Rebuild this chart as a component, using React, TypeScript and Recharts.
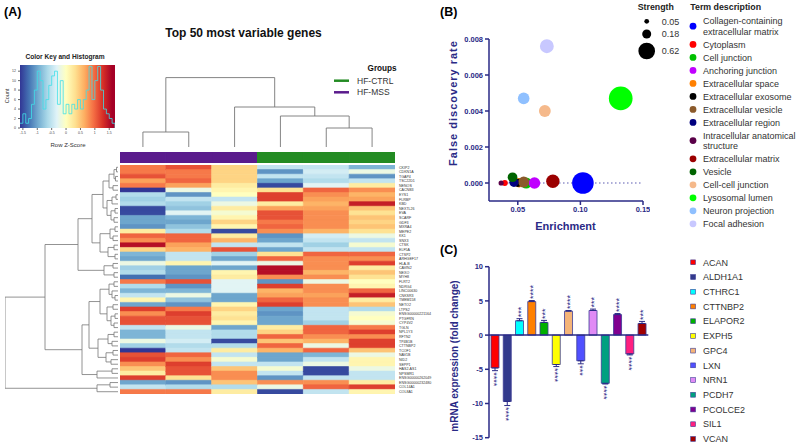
import React from "react";
import {
  Bar,
  BarChart,
  Cell,
  ErrorBar,
  LabelList,
  Line,
  LineChart,
  ReferenceArea,
  ReferenceLine,
  Scatter,
  ScatterChart,
  XAxis,
  YAxis,
  ZAxis,
} from "recharts";

const FONT = '"Liberation Sans", Arial, sans-serif';
const NAVY = "#2a2a86";

// ---------- (A) heatmap: top 50 genes, row z-scores, 6 samples ----------
const heatGenes = [
  "CKIP2", "CDKN1A", "TGAP4", "TSC22D1", "NENOS", "CACNB3", "EYS1", "FLRBP", "KBD", "NEXTL26",
  "EVA", "SCARF", "GDF3", "MXRA4", "MEPE2", "KK1", "SNX3", "CTSK", "ELF5A", "CTSP2",
  "ARHGEF17", "HLA-B", "CAVIN2", "NEXO", "MYH8", "FLRT2", "NDRG4", "LINC00630", "CNKSR3", "TMEM158",
  "NETO2", "LTPS2", "ENSG00000221164", "PTGFRN", "CYP4V2", "TGLN", "NPL1Y3", "RFTN2", "TP4B1B", "CTTNBP2",
  "TCOF1", "NAV1B", "NID2", "SEPP1", "HAS2-AS1", "NPSMR1", "ENSG00000262049", "ENSG00000232480", "COL14A1", "COL8A1",
];
const sampleGroups = ["HF-MSS", "HF-MSS", "HF-MSS", "HF-CTRL", "HF-CTRL", "HF-CTRL"];
const zS1 = [0.9,0.9,1.1,0.7,0.9,-1.6,-0.6,-0.7,-0.6,-1.5, -1.5,-1.0,-1.0,-1.1,0.2,1.0,0.8,1.5,0.4,-0.9, -1.0,-0.2,-0.7,-0.6,-1.3,0.9,-0.6,-0.9,-0.5,0.1, -1.0,1.2,0.8,1.1,1.1,-0.5,-0.9,-0.9,-0.2,-0.7, -1.6,1.1,1.2,0.8,0.5,0.2,1.2,-1.0,-0.5,0.9];
const zS2 = [1.1,0.9,0.9,1.0,0.7,-0.2,-1.1,-0.5,-0.7,-0.8, -0.3,-0.9,-1.0,-0.8,-0.6,1.0,1.0,0.7,0.6,-0.5, -0.5,0.1,-1.0,-1.0,-1.1,1.1,-1.1,-0.9,-0.2,-0.8, -1.1,0.9,1.2,1.1,1.1,-0.2,-0.5,-0.5,-0.4,-0.6, -0.5,1.0,0.8,1.2,1.1,1.1,0.3,-1.1,-0.6,0.9];
const zS3 = [0.4,0.4,0.4,0.4,0.2,0.1,0.0,-0.5,-0.2,0.2, -0.1,0.1,0.4,0.1,-1.5,0.2,0.6,-0.5,1.1,-0.7, -1.0,-0.3,-1.0,0.1,0.2,-0.3,-0.3,-0.3,-1.0,-1.0, 0.1,0.4,0.2,0.3,0.1,-1.0,-0.6,-0.6,-1.5,-0.6, 0.2,-0.5,-0.1,-0.5,0.5,0.8,0.8,0.5,-0.6,0.2];
const zS4 = [-0.5,-1.1,-0.5,-1.0,-1.5,0.3,1.2,1.2,0.2,0.7, 1.1,1.1,0.9,1.0,0.8,-1.1,-1.0,-0.5,-1.0,0.3, 1.0,-0.2,1.5,1.5,0.8,-1.1,1.2,0.6,0.7,1.0, 1.2,-1.0,-1.1,-1.0,-1.0,0.2,0.4,1.0,0.5,1.0, 0.6,-1.0,-1.0,-0.5,-0.1,-0.5,-1.1,0.8,-0.2,-1.5];
const zS5 = [-0.5,-0.4,-0.5,-0.6,-0.3,1.0,0.8,0.7,0.6,0.7, 0.8,0.8,0.8,0.8,0.6,-0.4,-0.5,-0.7,-0.5,1.0, 0.8,0.8,0.8,0.6,0.8,-0.2,0.8,0.8,0.7,0.8, 0.8,-0.5,-0.5,-0.5,-0.7,1.0,1.0,0.8,0.6,-0.2, 1.0,-0.9,-0.5,-0.2,-1.5,-1.5,-0.5,0.8,1.0,-0.5];
const zS6 = [-0.9,-0.2,-1.1,-0.5,0.2,0.8,0.6,0.7,1.4,0.5, 0.3,0.5,0.4,0.5,0.3,-0.2,-0.5,-0.1,-0.5,1.0, 0.8,1.2,0.2,0.5,0.3,0.0,0.1,1.0,1.4,0.2, 0.5,-0.6,-0.1,0.0,-0.1,0.9,1.2,0.8,1.2,1.2, 0.5,-0.2,0.1,0.1,-0.2,-0.5,-0.5,0.2,1.2,0.1];
const heatCols = [zS1, zS2, zS3, zS4, zS5, zS6];

// dendrograms: [merge height, left, right], leaves are row / column indices
type Tree = number | [number, Tree, Tree];
const colTree: Tree = [69.4, [15, 0, 1], [40, 2, [31, 3, [19, 4, 5]]]];
const rowTree: Tree = [113,
  [73,
    [40,
      [26,
        [15,
          [9, [4, [1.5, 0, 1], [2.5, 2, 3]], [5, 4, 5]],
          [11, [6, [2, 6, 7], 8], [7, [3, 9, 10], [4, 11, 12]]]],
        [18, [8, [3, 13, 14], [5, 15, 16]], [10, [4, 17, 18], [3, 19, 20]]]],
      [14, [5, 21, 22], [4, 23, 24]]],
    [36,
      [29,
        [18, [9, [4, 25, 26], [6, 27, [3, 28, 29]]], [11, [5, 30, 31], [7, [3, 32, 33], [4, 34, 35]]]],
        [20, [10, [4, 36, 37], [6, 38, 39]], [12, [5, 40, 41], [7, 42, 43]]]],
      [21, [6, 44, 45], 46]]],
  [21, [8, 47, 48], 49]];

// colour key histogram
const keyBinStart = [-1.6,-1.5,-1.4,-1.3,-1.2,-1.1,-1.0,-0.9,-0.8,-0.7,-0.6,-0.5,-0.4,-0.3,-0.2,-0.1,0,0.1,0.2,0.3,0.4,0.5,0.6,0.7,0.8,0.9,1.0,1.1,1.2,1.3,1.4,1.5,1.6];
const keyCounts = [1,3,1,2,5,8,12,10,4,6,9,11,12,5,10,3,5,3,5,4,6,4,6,8,13,6,10,13,8,4,3,2,1];

// ---------- (B) GO cellular component enrichment ----------
const termNames = [
  "Collagen-containing extracellular matrix", "Cytoplasm", "Cell junction", "Anchoring junction",
  "Extracellular space", "Extracellular exosome", "Extracellular vesicle", "Extracellular region",
  "Intracellular anatomical structure", "Extracellular matrix", "Vesicle", "Cell-cell junction",
  "Lysosomal lumen", "Neuron projection", "Focal adhesion",
];
const termColors = ["#0000ff", "#ff0000", "#00c000", "#c000ff", "#ff8000", "#000000", "#8b5a2b", "#00007f", "#5a0048", "#9b0000", "#006400", "#f5b98b", "#00ff00", "#8fc0ff", "#c8c8ff"];
const enrichment = [0.102, 0.0396, 0.0567, 0.0633, 0.051, 0.05, 0.0547, 0.0469, 0.0367, 0.078, 0.0458, 0.0716, 0.1322, 0.0547, 0.0732];
const fdr = [0.0, 0.0, 0.0, 0.0, 0.00002, 0.00001, 0.00005, 0.00004, 0.0, 0.0001, 0.00032, 0.004, 0.0047, 0.0047, 0.0076];
const strength = [1.04, 0.08, 0.27, 0.3, 0.2, 0.15, 0.27, 0.19, 0.06, 0.4, 0.21, 0.31, 1.25, 0.3, 0.43];
const strengthKey = [0.05, 0.18, 0.62];

// ---------- (C) qPCR ----------
const qpcrGenes = ["ACAN", "ALDH1A1", "CTHRC1", "CTTNBP2", "ELAPOR2", "EXPH5", "GPC4", "LXN", "NRN1", "PCDH7", "PCOLCE2", "SIL1", "VCAN"];
const foldChange = [-4.8, -9.7, 2.1, 4.9, 1.85, -4.3, 3.5, -3.75, 3.6, -7.05, 3.0, -2.75, 1.7];
const foldErr = [0.4, 0.6, 0.3, 0.15, 0.3, 0.3, 0.1, 0.45, 0.2, 0.1, 0.15, 0.15, 0.3];
const signif = ["****", "****", "***", "****", "***", "****", "****", "***", "***", "****", "****", "****", "***"];
const qpcrColors = ["#ff0000", "#333a8c", "#00ffff", "#ff8000", "#00b000", "#ffff00", "#f5b478", "#5050ff", "#e08af5", "#00a080", "#800090", "#ff1f7f", "#a00000"];

// ---------- helpers ----------
const zStops: [number, string][] = [
  [-1.6, "#313695"], [-1.28, "#4575b4"], [-0.96, "#74add1"], [-0.64, "#abd9e9"], [-0.32, "#e0f3f8"],
  [0, "#ffffbf"], [0.32, "#fee090"], [0.64, "#fdae61"], [0.96, "#f46d43"], [1.28, "#d73027"], [1.6, "#a50026"],
];
const hex = (c: string) => [1, 3, 5].map((i) => parseInt(c.slice(i, i + 2), 16));
function zColor(v: number) {
  const z = Math.max(-1.6, Math.min(1.6, v));
  let k = 0;
  while (k < zStops.length - 2 && z > zStops[k + 1][0]) k++;
  const [a, ca] = zStops[k];
  const [b, cb] = zStops[k + 1];
  const t = (z - a) / (b - a);
  const A = hex(ca), B = hex(cb);
  return `rgb(${A.map((x, i) => Math.round(x + (B[i] - x) * t)).join(",")})`;
}

function dendroLinks(t: Tree, out: { h: number; p: number }[][]): { h: number; p: number } {
  if (typeof t === "number") return { h: 0, p: t + 0.5 };
  const [h, a, b] = t;
  const A = dendroLinks(a, out);
  const B = dendroLinks(b, out);
  out.push([A, { h, p: A.p }, { h, p: B.p }, B]);
  return { h, p: (A.p + B.p) / 2 };
}
const rowLinks: { h: number; p: number }[][] = [];
dendroLinks(rowTree, rowLinks);
const colLinks: { h: number; p: number }[][] = [];
dendroLinks(colTree, colLinks);

const groupColor: Record<string, string> = { "HF-CTRL": "#238b23", "HF-MSS": "#5a1b8c" };

const heatRows = heatGenes.map((gene) => ({ gene, c0: 1, c1: 1, c2: 1, c3: 1, c4: 1, c5: 1 }));
const groupRow = [{ name: "group", c0: 1, c1: 1, c2: 1, c3: 1, c4: 1, c5: 1 }];
const keyData = [...keyBinStart.map((z, i) => ({ z, count: keyCounts[i] })), { z: 1.7, count: 0 }];
const termData = termNames.map((name, i) => ({ name, x: enrichment[i], y: fdr[i], z: strength[i] }));
const qpcrRows = qpcrGenes.map((gene, i) => ({
  gene,
  fc: foldChange[i],
  err: foldChange[i] < 0 ? [foldErr[i], 0] : [0, foldErr[i]],
  sig: signif[i],
}));

const EmptyShape = () => <g />;
const Z_RANGE = 441;
const Z_MAX = 1.25;
const bubbleR = (s: number) => Math.sqrt((s / Z_MAX) * Z_RANGE / Math.PI);
const C_PX = 171 / 25;

const StarLabel = (props: any) => {
  const { x, y, width, height, index } = props;
  const v = foldChange[index];
  const cx = x + width / 2 + (v >= 0 ? 1.2 : -1.2);
  const end = v >= 0 ? Math.min(y, y + height) : Math.max(y, y + height);
  const gap = foldErr[index] * C_PX + 1.5;
  const start = v >= 0 ? end - gap : end + gap;
  const rot = v >= 0 ? -90 : 90;
  return (
    <text x={cx} y={start} transform={`rotate(${rot} ${cx} ${start})`} textAnchor="start"
      dominantBaseline="central" fontSize={9} fill={NAVY} fontFamily={FONT}>
      {signif[index]}
    </text>
  );
};

const axisTick = { fill: NAVY, fontSize: 7.5, fontWeight: "bold", fontFamily: FONT };
const abs = (left: number, top: number): React.CSSProperties => ({ position: "absolute", left, top });

export default function App() {
  let ty = 21;
  const termRows = termNames.map((n, i) => {
    const lines = i === 0 ? ["Collagen-containing", "extracellular matrix"] : i === 8 ? ["Intracellular anatomical", "structure"] : [n];
    const y0 = ty;
    const cy = y0 + ((lines.length - 1) * 10.4) / 2;
    ty += (lines.length - 1) * 10.4 + 13;
    return { lines, y0, cy, color: termColors[i] };
  });

  return (
    <div style={{ position: "absolute", left: 0, top: 0, width: 798, height: 445, background: "#fff", fontFamily: FONT, overflow: "hidden" }}>
      {/* colour key */}
      <div style={abs(0, 55)}>
        <LineChart width={120} height={81} data={keyData} margin={{ top: 10, right: 5, bottom: 0, left: 10 }}>
          <defs>
            <linearGradient id="keyGrad" x1="0" y1="0" x2="1" y2="0">
              {zStops.map(([v, c], i) => (
                <stop key={i} offset={(v + 1.6) / 3.3} stopColor={c} />
              ))}
              <stop offset={1} stopColor="#a50026" />
            </linearGradient>
          </defs>
          <XAxis type="number" dataKey="z" domain={[-1.6, 1.7]} allowDataOverflow ticks={[-1.5, -1, -0.5, 0, 0.5, 1, 1.5]}
            height={8} tickSize={2} tick={{ fontSize: 3.5, fill: "#444" }} stroke="#666" axisLine={false} />
          <YAxis type="number" domain={[0, 13.3]} allowDataOverflow ticks={[0, 2, 4, 6, 8, 10, 12]} width={10}
            tickSize={2} tick={{ fontSize: 3.5, fill: "#444" }} stroke="#666" axisLine={false} />
          <ReferenceArea x1={-1.6} x2={1.7} y1={0} y2={13.3} fill="url(#keyGrad)" fillOpacity={1} stroke="none" />
          <Line type="stepAfter" dataKey="count" stroke="#3fe0e8" strokeWidth={0.8} dot={false} isAnimationActive={false} />
        </LineChart>
      </div>

      {/* column dendrogram */}
      <div style={abs(120, 75)}>
        <ScatterChart width={275} height={72} margin={{ top: 0, right: 0, bottom: 0, left: 0 }}>
          <XAxis type="number" dataKey="p" domain={[0, 6]} hide allowDataOverflow />
          <YAxis type="number" dataKey="h" domain={[0, 72]} hide allowDataOverflow />
          {colLinks.map((pts, i) => (
            <Scatter key={i} data={pts} line={{ stroke: "#777", strokeWidth: 0.9 }} lineType="joint" shape={EmptyShape} isAnimationActive={false} />
          ))}
        </ScatterChart>
      </div>

      {/* group colour bar */}
      <div style={abs(120, 152)}>
        <BarChart layout="vertical" width={275} height={11} data={groupRow} margin={{ top: 0, right: 0, bottom: 0, left: 0 }} barCategoryGap={0}>
          <XAxis type="number" domain={[0, 6]} hide allowDataOverflow />
          <YAxis type="category" dataKey="name" hide />
          {sampleGroups.map((g, j) => (
            <Bar key={j} dataKey={`c${j}`} stackId="g" fill={groupColor[g]} stroke={groupColor[g]} strokeWidth={1} isAnimationActive={false} />
          ))}
        </BarChart>
      </div>

      {/* row dendrogram */}
      <div style={abs(0, 165)}>
        <ScatterChart width={120} height={229} margin={{ top: 0, right: 2, bottom: 0, left: 5 }}>
          <XAxis type="number" dataKey="h" domain={[0, 113]} reversed hide allowDataOverflow />
          <YAxis type="number" dataKey="p" domain={[0, 50]} reversed hide allowDataOverflow />
          {rowLinks.map((pts, i) => (
            <Scatter key={i} data={pts} line={{ stroke: "#777", strokeWidth: 0.8 }} lineType="joint" shape={EmptyShape} isAnimationActive={false} />
          ))}
        </ScatterChart>
      </div>

      {/* heatmap */}
      <div style={abs(120, 165)}>
        <BarChart layout="vertical" width={318} height={229} data={heatRows} margin={{ top: 0, right: 0, bottom: 0, left: 0 }} barCategoryGap={0} barGap={0}>
          <XAxis type="number" domain={[0, 6]} hide allowDataOverflow />
          <YAxis type="category" dataKey="gene" orientation="right" width={43} interval={0} tickLine={false} axisLine={false}
            tickSize={2} tickMargin={2} tick={{ fontSize: 3.6, fill: "#333", textAnchor: "start" }} />
          {heatCols.map((col, j) => (
            <Bar key={j} dataKey={`c${j}`} stackId="h" isAnimationActive={false}>
              {col.map((v, i) => (
                <Cell key={i} fill={zColor(v)} stroke={zColor(v)} strokeWidth={0.6} />
              ))}
            </Bar>
          ))}
        </BarChart>
      </div>

      {/* (B) bubble chart */}
      <div style={abs(440, 0)}>
        <ScatterChart width={210} height={240} margin={{ top: 39, right: 7, bottom: 9, left: 9 }}>
          <XAxis type="number" dataKey="x" domain={[0.027, 0.15]} allowDataOverflow ticks={[0.05, 0.1, 0.15]}
            tickFormatter={(v: number) => v.toFixed(2)} height={30} stroke={NAVY} strokeWidth={1.5} tickSize={4} tick={axisTick} />
          <YAxis type="number" dataKey="y" domain={[-0.001, 0.008]} allowDataOverflow ticks={[0, 0.002, 0.004, 0.006, 0.008]}
            tickFormatter={(v: number) => v.toFixed(3)} width={40} stroke={NAVY} strokeWidth={1.5} tickSize={4} tick={axisTick} />
          <ZAxis type="number" dataKey="z" domain={[0, Z_MAX]} range={[0, Z_RANGE]} />
          <ReferenceLine segment={[{ x: 0.035, y: 0 }, { x: 0.15, y: 0 }]} stroke="#5a5ab0" strokeWidth={1.2} strokeDasharray="1.5 2.5" />
          <Scatter data={termData} isAnimationActive={false}>
            {termColors.map((c, i) => (
              <Cell key={i} fill={c} />
            ))}
          </Scatter>
        </ScatterChart>
      </div>

      {/* (C) qPCR bars */}
      <div style={abs(440, 230)}>
        <BarChart width={215} height={215} data={qpcrRows} margin={{ top: 36.7, right: 6.7, bottom: 7.3, left: 9 }}>
          <XAxis dataKey="gene" hide />
          <YAxis type="number" domain={[-15, 10]} allowDataOverflow ticks={[-15, -10, -5, 0, 5, 10]} width={40}
            stroke={NAVY} strokeWidth={1.5} tickSize={4} tick={axisTick} />
          <ReferenceLine y={0} stroke={NAVY} strokeWidth={1.5} />
          <Bar dataKey="fc" barSize={8} stroke="#3c3c96" strokeWidth={0.8} isAnimationActive={false}>
            {qpcrColors.map((c, i) => (
              <Cell key={i} fill={c} />
            ))}
            <ErrorBar dataKey="err" width={3} stroke={NAVY} strokeWidth={1} direction="y" />
            <LabelList dataKey="sig" content={<StarLabel />} />
          </Bar>
        </BarChart>
      </div>

      {/* text overlay */}
      <svg width={798} height={445} style={{ position: "absolute", left: 0, top: 0, pointerEvents: "none" }} fontFamily={FONT}>
        <text x={4} y={16} fontSize={12.5} fontWeight="bold">(A)</text>
        <text x={440} y={16} fontSize={12.5} fontWeight="bold">(B)</text>
        <text x={440} y={254} fontSize={12.5} fontWeight="bold">(C)</text>
        <text x={243.5} y={36.5} fontSize={12} fontWeight="bold" textAnchor="middle" fill="#111">Top 50 most variable genes</text>

        {/* colour key labels */}
        <text x={65} y={59} fontSize={6.6} fontWeight="bold" textAnchor="middle" fill="#222">Color Key and Histogram</text>
        <text x={68} y={147} fontSize={6} textAnchor="middle" fill="#333">Row Z-Score</text>
        <text x={9} y={96} fontSize={5.5} textAnchor="middle" fill="#333" transform="rotate(-90 9 96)">Count</text>

        {/* groups legend */}
        <text x={396.7} y={70.5} fontSize={8.2} fontWeight="bold" textAnchor="end" fill="#111">Groups</text>
        {["HF-CTRL", "HF-MSS"].map((g, i) => (
          <g key={g}>
            <line x1={334} x2={349} y1={80.7 + i * 11.6} y2={80.7 + i * 11.6} stroke={groupColor[g]} strokeWidth={2.5} />
            <text x={357} y={83.7 + i * 11.6} fontSize={8.5} fill="#333">{g}</text>
          </g>
        ))}

        {/* B axis titles and legends */}
        <text x={456.5} y={103} fontSize={11} fontWeight="bold" fill={NAVY} textAnchor="middle" letterSpacing={1}
          transform="rotate(-90 456.5 103)">False discovery rate</text>
        <text x={565.5} y={230} fontSize={11} fontWeight="bold" fill={NAVY} textAnchor="middle">Enrichment</text>
        <text x={637.7} y={9.5} fontSize={8.8} fontWeight="bold" fill="#222">Strength</text>
        {strengthKey.map((s, i) => (
          <g key={s}>
            <circle cx={646.7} cy={[21.3, 34, 51][i]} r={bubbleR(s)} fill="#000" />
            <text x={661.7} y={[21.3, 34, 51][i] + 3.2} fontSize={9} fill="#333">{s.toFixed(2)}</text>
          </g>
        ))}
        <text x={690.3} y={9.5} fontSize={8.8} fontWeight="bold" fill="#222">Term description</text>
        {termRows.map((r, i) => (
          <g key={i}>
            <circle cx={693} cy={r.cy} r={3.4} fill={r.color} />
            {r.lines.map((l, k) => (
              <text key={k} x={703} y={r.y0 + k * 10.4 + 3.2} fontSize={9} fill="#333">{l}</text>
            ))}
          </g>
        ))}

        {/* C axis title and legend */}
        <text x={457.5} y={356} fontSize={10} fontWeight="bold" fill={NAVY} textAnchor="middle" transform="rotate(-90 457.5 356)">
          mRNA expression (fold change)
        </text>
        {qpcrGenes.map((g, i) => (
          <g key={g}>
            <rect x={690.7} y={262.3 + i * 14.72 - 2.4} width={4.8} height={4.8} fill={qpcrColors[i]} stroke="#3c3c96" strokeWidth={0.6} />
            <text x={703} y={262.3 + i * 14.72 + 3.2} fontSize={9} fill="#333">{g}</text>
          </g>
        ))}
      </svg>
    </div>
  );
}
